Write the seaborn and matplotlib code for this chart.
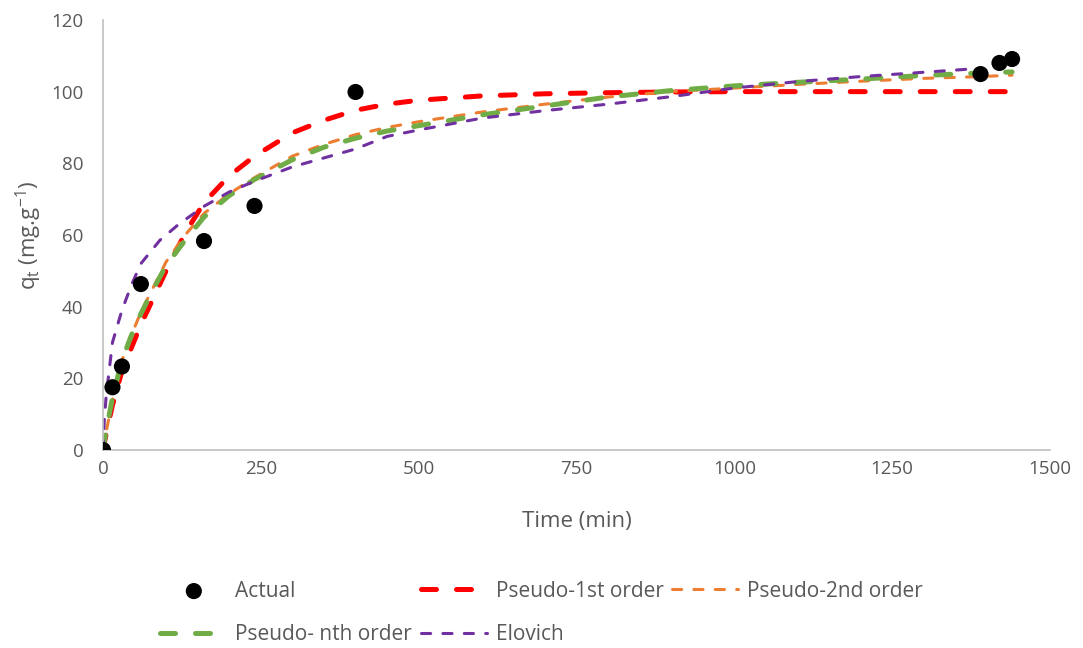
import matplotlib
matplotlib.use("Agg")
import matplotlib.pyplot as plt
import seaborn as sns

# Measured uptake
t_actual = [0, 15, 30, 60, 160, 240, 400, 1390, 1420, 1440]
q_actual = [0, 17.5, 23.3, 46.3, 58.3, 68.1, 99.9, 104.9, 108.0, 109.1]

# Model curves
t_pfo = [0, 5, 15, 30, 45, 60, 80, 100, 130, 160, 200, 240, 300, 350, 400, 450,
         500, 600, 700, 800, 900, 1000, 1100, 1200, 1300, 1390, 1440]
q_pfo = [0, 4.5, 12.5, 22.0, 28.5, 35.0, 42.5, 50.0, 60.5, 69.0, 76.5, 82.0, 88.5,
         92.0, 94.8, 96.5, 97.6, 98.8, 99.4, 99.7, 99.9, 100, 100, 100, 100, 100, 100]

t_pso = [0, 5, 15, 30, 45, 60, 80, 100, 130, 160, 200, 240, 300, 350, 400, 450,
         500, 600, 700, 800, 900, 1000, 1100, 1200, 1300, 1390, 1440]
q_pso = [0, 5.0, 14.0, 25.0, 32.0, 38.5, 45.5, 52.5, 60.0, 66.0, 71.5, 76.0, 82.0,
         85.3, 88.0, 90.0, 91.6, 94.3, 96.5, 98.5, 100.0, 101.0, 102.0, 102.9,
         103.7, 104.2, 104.6]

t_pno = [0, 5, 15, 30, 45, 60, 80, 100, 130, 160, 200, 240, 300, 350, 400, 450,
         500, 600, 700, 800, 900, 1000, 1100, 1200, 1300, 1390, 1440]
q_pno = [0, 5.5, 14.5, 25.0, 32.0, 38.0, 45.0, 51.5, 58.5, 65.0, 71.0, 75.5, 81.0,
         84.5, 87.0, 89.0, 90.5, 93.5, 96.0, 98.5, 100.3, 101.6, 102.6, 103.5,
         104.5, 105.2, 105.5]

t_elo = [0, 2, 5, 15, 30, 45, 60, 90, 120, 160, 200, 240, 300, 350, 400, 450,
         500, 600, 700, 800, 900, 1000, 1100, 1200, 1300, 1390]
q_elo = [0, 8.0, 15.0, 30.0, 39.0, 46.0, 52.0, 58.5, 63.0, 68.0, 72.0, 75.0, 79.0,
         81.5, 84.0, 87.5, 89.3, 92.6, 94.7, 96.5, 98.6, 101.0, 102.8, 104.2,
         105.4, 106.5]

x_ticks = [0, 250, 500, 750, 1000, 1250, 1500]
y_ticks = [0, 20, 40, 60, 80, 100, 120]

sns.set_theme(style="white")
plt.rcParams["font.family"] = ["Open Sans", "DejaVu Sans"]
plt.rcParams["mathtext.fontset"] = "custom"
plt.rcParams["mathtext.rm"] = "Open Sans"
plt.rcParams["mathtext.it"] = "Open Sans"

TXT = "#595959"
fig = plt.figure(figsize=(10.83, 6.48), dpi=100)
ax = fig.add_axes([0.0951, 0.3056, 0.8744, 0.6636])

series = [
    ("Pseudo-1st order", t_pfo, q_pfo, "#FF0000", 3.6),
    ("Pseudo-2nd order", t_pso, q_pso, "#ED7D31", 2.2),
    ("Pseudo- nth order", t_pno, q_pno, "#70AD47", 3.6),
    ("Elovich", t_elo, q_elo, "#7030A0", 2.2),
]
handles = {}
for name, tx, qy, col, lw in series:
    sns.lineplot(x=tx, y=qy, color=col, lw=lw, ax=ax, sort=False, estimator=None,
                 linestyle=(0, (3, 4)), dash_capstyle="round", label=name)
    handles[name] = ax.get_lines()[-1]

sns.scatterplot(x=t_actual, y=q_actual, color="black", s=135, edgecolor="none",
                ax=ax, zorder=5, label="Actual")
handles["Actual"] = ax.collections[-1]
ax.get_legend().remove()

ax.set_xlim(0, 1500)
ax.set_ylim(0, 120)
ax.set_xticks(x_ticks)
ax.set_yticks(y_ticks)
ax.tick_params(length=0, labelsize=13.5, colors=TXT)
ax.tick_params(axis="y", pad=14)
ax.tick_params(axis="x", pad=7)
for s in ["top", "right"]:
    ax.spines[s].set_visible(False)
for s in ["left", "bottom"]:
    ax.spines[s].set_color("#BFBFBF")
    ax.spines[s].set_linewidth(1.2)

ax.set_xlabel("Time (min)", fontsize=16, color=TXT, labelpad=24)
ax.set_ylabel(r"q$_\mathregular{t}$ (mg.g$^\mathregular{-1}$)", fontsize=16,
              color=TXT, labelpad=5)

order = ["Actual", "Pseudo- nth order", "Pseudo-1st order", "Elovich", "Pseudo-2nd order"]
leg = fig.legend([handles[k] for k in order], order, loc="center",
                 bbox_to_anchor=(0.5, 0.054), ncol=3, frameon=False, fontsize=15,
                 handlelength=3.2, handletextpad=0.4, columnspacing=0.4,
                 labelspacing=1.1)
for txt in leg.get_texts():
    txt.set_color(TXT)

fig.savefig("out.png", dpi=100)
